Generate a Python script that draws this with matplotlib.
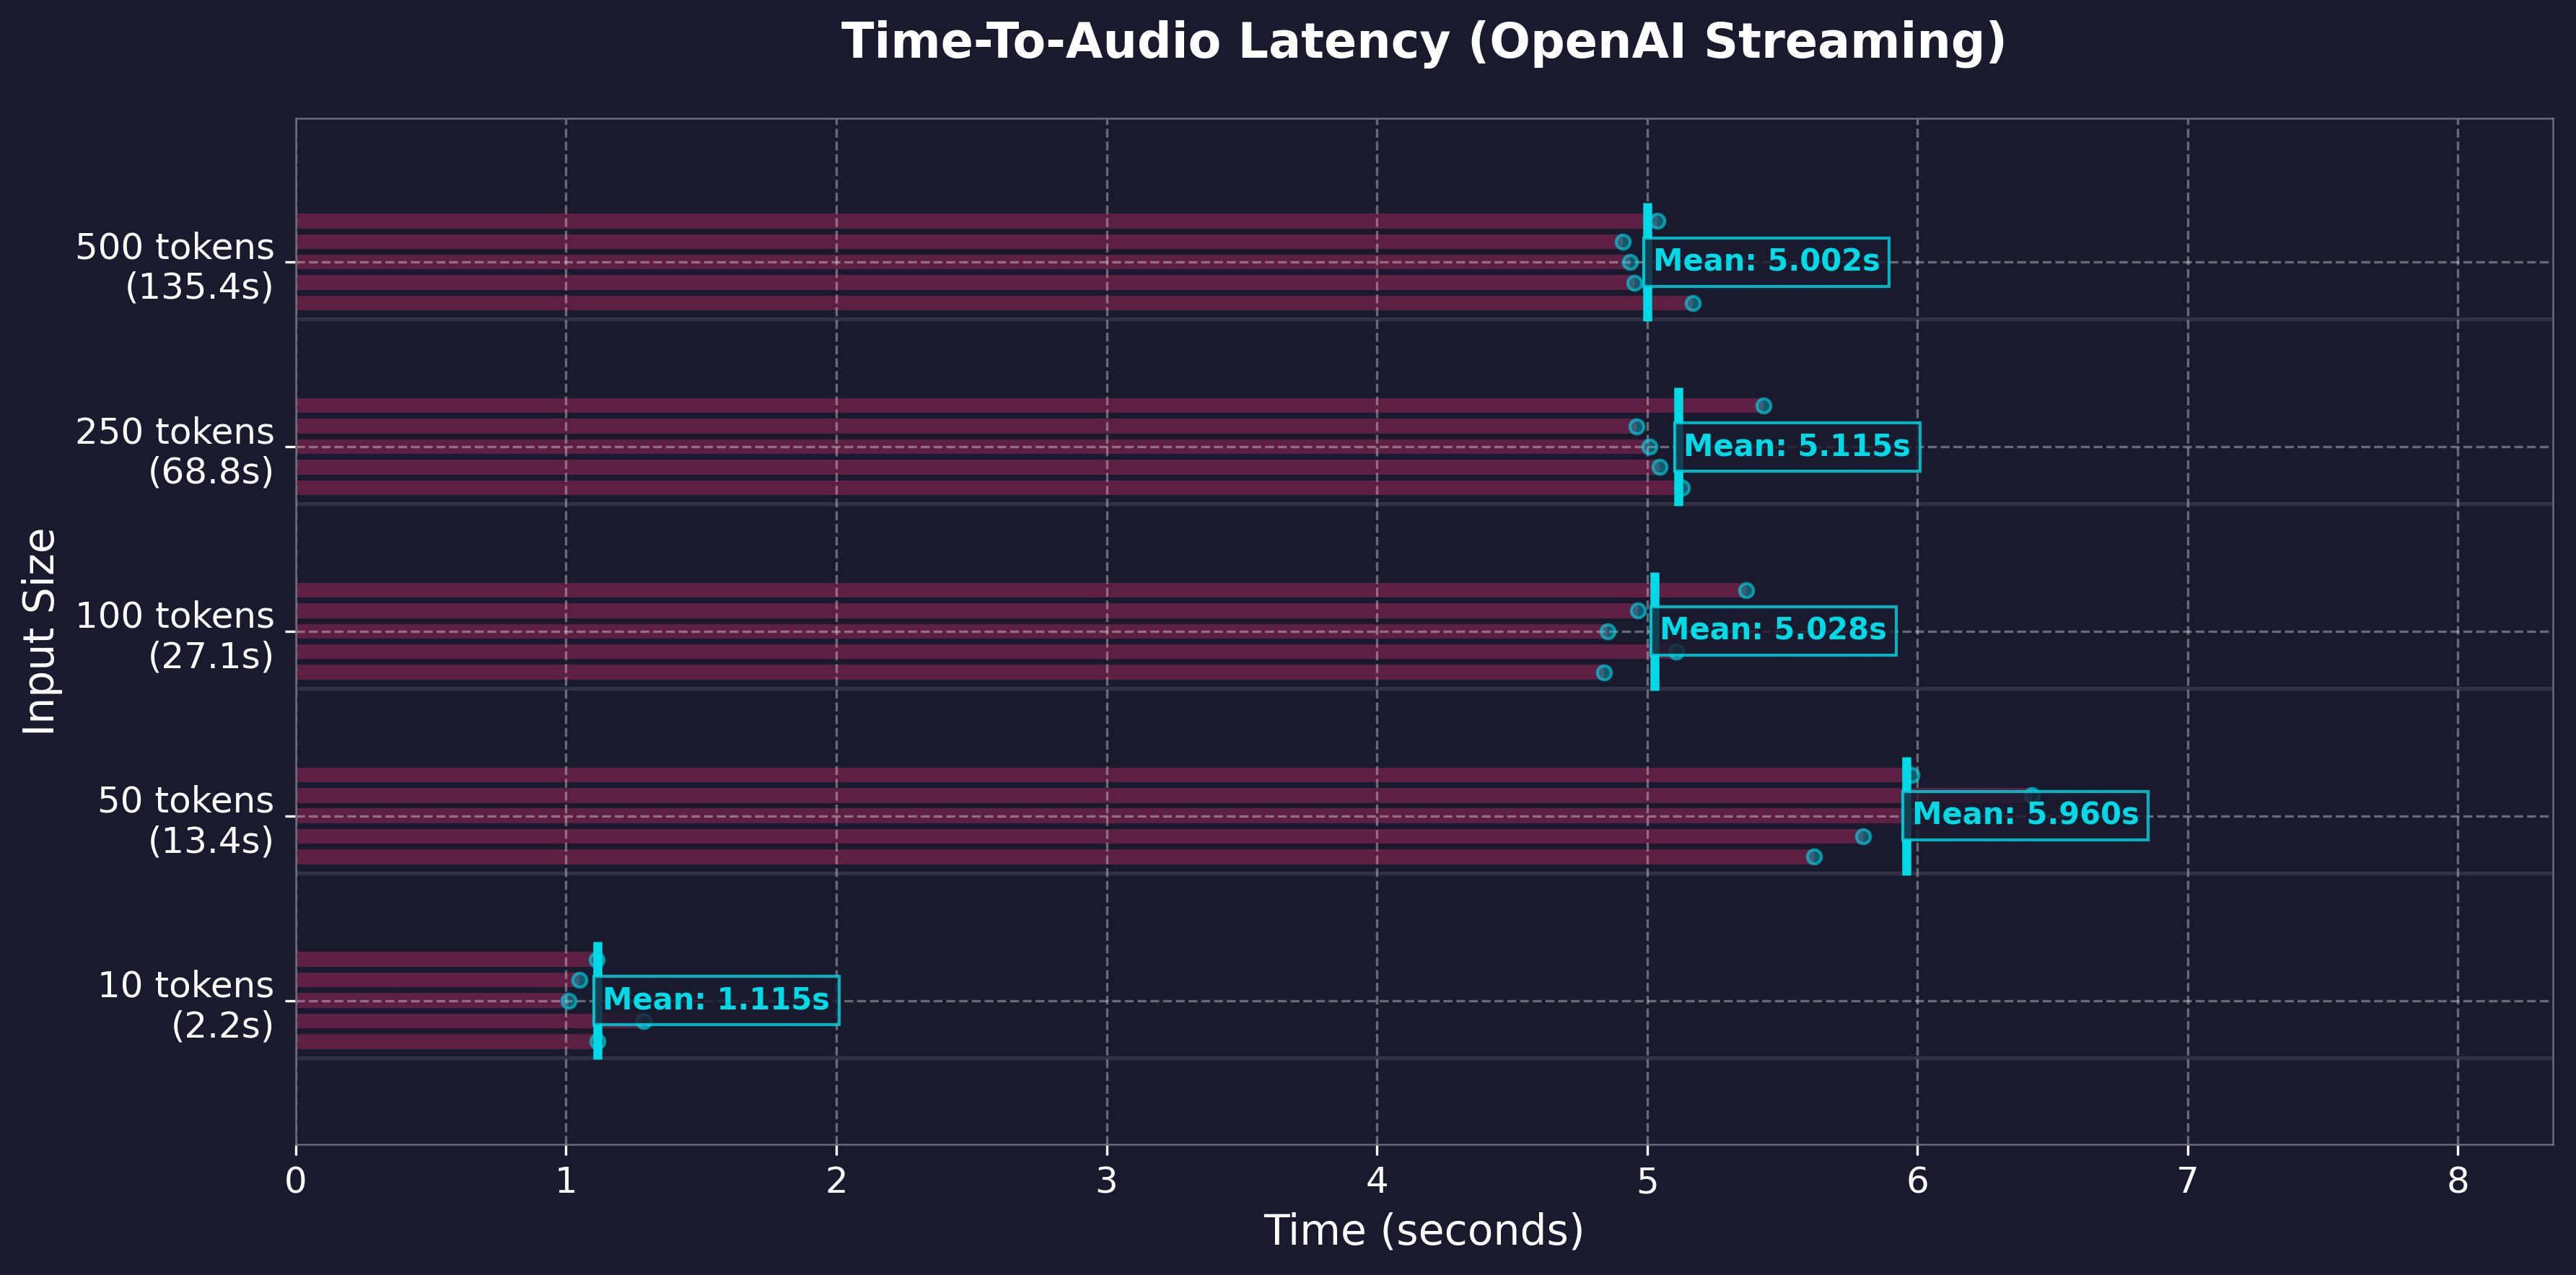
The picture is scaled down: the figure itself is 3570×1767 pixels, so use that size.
import matplotlib
matplotlib.use("Agg")
import matplotlib.pyplot as plt
import numpy as np

# input sizes and total generation time per size
tokens = [10, 50, 100, 250, 500]
total_time = [2.2, 13.4, 27.1, 68.8, 135.4]

# time-to-audio per run (seconds), listed top bar to bottom bar in each group
runs_10 = [1.115, 1.049, 1.009, 1.286, 1.117]
runs_50 = [5.977, 6.424, 5.981, 5.800, 5.618]
runs_100 = [5.367, 4.967, 4.855, 5.107, 4.842]
runs_250 = [5.430, 4.962, 5.010, 5.046, 5.128]
runs_500 = [5.039, 4.911, 4.938, 4.954, 5.168]
all_runs = [runs_10, runs_50, runs_100, runs_250, runs_500]

BG = "#1a1a2e"
BAR = "#5d1f42"
CYAN = "#00d9e6"

fig, ax = plt.subplots(figsize=(11.9, 5.89), dpi=300)
fig.patch.set_facecolor(BG)
ax.set_facecolor(BG)
fig.subplots_adjust(left=0.1148, right=0.991, top=0.9074, bottom=0.1024)

step = 0.111
for i, runs in enumerate(all_runs):
    n = len(runs)
    ys = [i + (n // 2 - j) * step for j in range(n)]
    ax.barh(ys, runs, height=0.08, color=BAR, zorder=1)
    ax.scatter(runs, ys, s=22, facecolor=(0, 0.85, 0.9, 0.35),
               edgecolor=(0, 0.85, 0.9, 0.6), linewidth=1.0, zorder=3)
    ax.axhline(i - 0.31, color="white", alpha=0.1, lw=1.3, zorder=1)

    mean = np.mean(runs)
    ax.vlines(mean, i - 0.32, i + 0.32, color=CYAN, lw=3, zorder=4)
    ax.text(mean + 0.02, i, f"Mean: {mean:.3f}s", color=CYAN, fontsize=10,
            fontweight="bold", ha="left", va="center", zorder=5,
            bbox=dict(boxstyle="square,pad=0.3", facecolor=BG, alpha=0.8,
                      edgecolor=CYAN, linewidth=1.0))

labels = [f"{t} tokens\n({s}s)" for t, s in zip(tokens, total_time)]
ax.set_yticks(range(len(tokens)))
ax.set_yticklabels(labels)
ax.set_ylim(-0.78, 4.78)
max_val = max(max(r) for r in all_runs)
ax.set_xlim(0, max_val * 1.3)

ax.grid(True, linestyle="--", color="white", alpha=0.35, linewidth=0.8)
ax.tick_params(colors="white", labelsize=12)
for spine in ax.spines.values():
    spine.set_color("#6b6b7d")
    spine.set_linewidth(0.6)

ax.set_xlabel("Time (seconds)", color="white", fontsize=14)
ax.set_ylabel("Input Size", color="white", fontsize=14)
ax.set_title("Time-To-Audio Latency (OpenAI Streaming)", color="white",
             fontsize=16, fontweight="bold", pad=20)

plt.savefig("out.png", dpi=300, facecolor=BG)
plt.close()
